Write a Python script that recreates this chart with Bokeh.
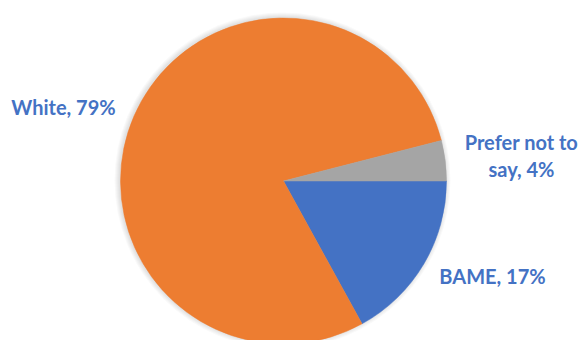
import math
from bokeh.plotting import figure
from bokeh.models import Range1d, ColumnDataSource
from bokeh.core.properties import value
from bokeh.embed import file_html
from bokeh.resources import INLINE

categories = ["BAME", "White", "Prefer not to say"]
percents = [17, 79, 4]
label_texts = ["BAME, 17%", "White, 79%", "Prefer not to\nsay, 4%"]
colors = ["#4472C4", "#ED7D31", "#A5A5A5"]

W, H = 581, 340
cx, cy, r = 283, H - 180.5, 163
label_x = [492, 63, 521]
label_y = [H - 275, H - 106, H - 155]

total = sum(percents)
starts, ends = [], []
cum = 0.0
for v in percents:
    starts.append(-cum / total * 2 * math.pi)
    cum += v
    ends.append(-cum / total * 2 * math.pi)

src = ColumnDataSource(dict(cat=categories, start=starts, end=ends, color=colors))

p = figure(width=W, height=H, output_backend="svg", toolbar_location=None,
           x_range=Range1d(0, W), y_range=Range1d(0, H), min_border=0)
p.axis.visible = False
p.grid.visible = False
p.outline_line_color = None
p.background_fill_color = "white"
p.border_fill_color = "white"

# soft shadow around the pie
for k in range(1, 6):
    p.circle(x=cx - 1, y=cy + 0.5, radius=r + k, fill_color="#000000", fill_alpha=0.025,
             line_color=None)

p.wedge(x=cx, y=cy, radius=r, start_angle="start", end_angle="end", direction="clock",
        fill_color="color", line_color="color", line_width=0.5, source=src)

lsrc = ColumnDataSource(dict(x=label_x, y=label_y, text=label_texts))
p.text(x="x", y="y", text="text", source=lsrc, text_align="center", text_baseline="middle",
       text_font=value("Lato"), text_font_style="bold", text_font_size="20px",
       text_color="#4472C4", text_line_height=1.15)

open("out.html", "w").write(file_html(p, INLINE))
